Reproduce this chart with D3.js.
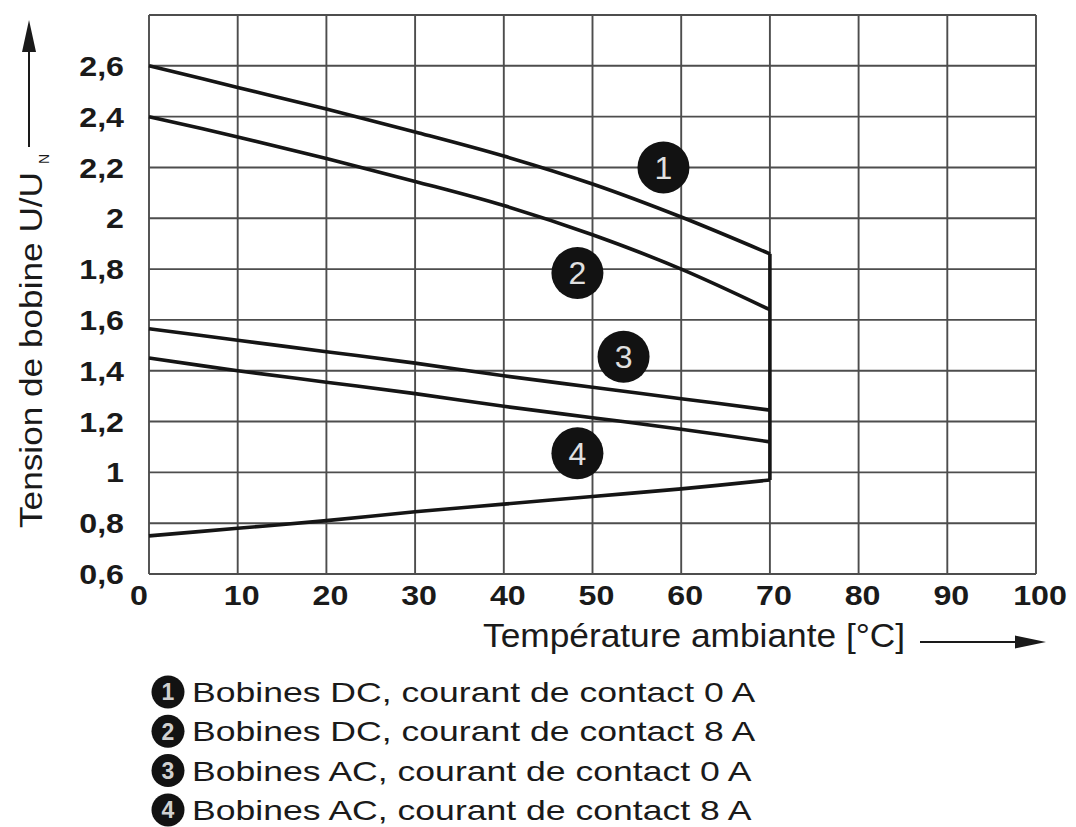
<!DOCTYPE html>
<html>
<head>
<meta charset="utf-8">
<script src="https://cdn.jsdelivr.net/npm/d3@7"></script>
<style>
  html, body { margin: 0; padding: 0; background: #fff; }
  svg { display: block; }
  text { font-family: "Liberation Sans", Arial, Helvetica, sans-serif; fill: #1a1a1a; }
</style>
</head>
<body>
<svg id="chart" width="1076" height="827"></svg>
<script>
// data
const temps = [0, 10, 20, 30, 40, 50, 60, 70];
const dc0 = [2.60, 2.515, 2.43, 2.34, 2.245, 2.135, 2.005, 1.86];
const dc8 = [2.40, 2.32, 2.235, 2.145, 2.05, 1.935, 1.80, 1.64];
const ac0 = [1.565, 1.52, 1.475, 1.43, 1.38, 1.335, 1.29, 1.245];
const ac8 = [1.45, 1.40, 1.355, 1.31, 1.26, 1.215, 1.17, 1.12];
const minV = [0.75, 0.78, 0.81, 0.845, 0.875, 0.905, 0.935, 0.97];
const edgeX = [70, 70];
const edgeY = [1.86, 0.97];

const xTicks = [0, 10, 20, 30, 40, 50, 60, 70, 80, 90, 100];
const yTicks = [0.6, 0.8, 1, 1.2, 1.4, 1.6, 1.8, 2, 2.2, 2.4, 2.6];
const yGrid = [0.6, 0.8, 1, 1.2, 1.4, 1.6, 1.8, 2, 2.2, 2.4, 2.6, 2.8];

const markNums = ["1", "2", "3", "4"];
const markX = [58, 48.3, 53.5, 48.3];
const markY = [2.2, 1.785, 1.455, 1.075];

const legendLabels = [
  "Bobines DC, courant de contact 0 A",
  "Bobines DC, courant de contact 8 A",
  "Bobines AC, courant de contact 0 A",
  "Bobines AC, courant de contact 8 A"
];

const svg = d3.select("#chart");
const x = d3.scaleLinear().domain([0, 100]).range([149, 1036]);
const y = d3.scaleLinear().domain([0.6, 2.8]).range([574, 15]);

// stretched text helper (the source lettering is wide)
function wideText(parent, px, py, str, opts) {
  const g = parent.append("g").attr("transform", "translate(" + px + "," + py + ")" + (opts.rotate ? " rotate(" + opts.rotate + ")" : ""));
  return g.append("text")
    .attr("transform", "scale(" + (opts.k || 1) + ",1)")
    .attr("text-anchor", opts.anchor || "start")
    .attr("dy", opts.dy || 0)
    .style("font-size", opts.size + "px")
    .style("font-weight", opts.bold ? "bold" : "normal")
    .text(str);
}

// grid
const grid = svg.append("g").attr("stroke", "#4d4d4d").attr("stroke-width", 1.9);
grid.selectAll(".vx").data(xTicks).enter().append("line")
  .attr("x1", d => x(d)).attr("x2", d => x(d))
  .attr("y1", y(2.8)).attr("y2", y(0.6));
grid.selectAll(".hy").data(yGrid).enter().append("line")
  .attr("x1", x(0)).attr("x2", x(100))
  .attr("y1", d => y(d)).attr("y2", d => y(d));

// tick labels
yTicks.forEach(v => {
  wideText(svg, 124, y(v), String(v).replace(".", ","), { size: 28, bold: true, k: 1.15, anchor: "end", dy: "0.36em" });
});
xTicks.forEach(v => {
  const px = v === 0 ? 139 : x(v) + 4;
  wideText(svg, px, 605, String(v), { size: 28, bold: true, k: 1.15, anchor: "middle" });
});

// curves
const line = d3.line()
  .x(d => x(d[0]))
  .y(d => y(d[1]))
  .curve(d3.curveCatmullRom);
const series = [dc0, dc8, ac0, ac8, minV];
svg.append("g").selectAll("path").data(series).enter().append("path")
  .attr("d", s => line(temps.map((t, i) => [t, s[i]])))
  .attr("fill", "none")
  .attr("stroke", "#151515")
  .attr("stroke-width", 3.6);
svg.append("path")
  .attr("d", d3.line().x(d => x(d[0])).y(d => y(d[1]))(edgeX.map((t, i) => [t, edgeY[i]])))
  .attr("fill", "none")
  .attr("stroke", "#151515")
  .attr("stroke-width", 3.6);

// numbered markers
const marks = svg.append("g").selectAll("g").data(markNums).enter().append("g")
  .attr("transform", (d, i) => "translate(" + x(markX[i]) + "," + y(markY[i]) + ")");
marks.append("circle").attr("r", 26).attr("fill", "#121212");
marks.append("text")
  .attr("text-anchor", "middle")
  .attr("dy", "0.36em")
  .style("font-size", "32px")
  .style("fill", "#e0e0e0")
  .text(d => d);

// x axis title + arrow
wideText(svg, 483, 647, "Température ambiante [°C]", { size: 33, k: 1.07 });
svg.append("line").attr("x1", 920).attr("x2", 1018).attr("y1", 642).attr("y2", 642)
  .attr("stroke", "#1a1a1a").attr("stroke-width", 2);
svg.append("path").attr("d", "M1015,635.5 L1046,642 L1015,648.5 Z").attr("fill", "#1a1a1a");

// y axis title + arrow
wideText(svg, 42, 528, "Tension de bobine U/U", { size: 32, k: 1.1, rotate: -90 });
wideText(svg, 49, 164, "N", { size: 14, k: 1, rotate: -90 });
svg.append("line").attr("x1", 29).attr("x2", 29).attr("y1", 147).attr("y2", 48)
  .attr("stroke", "#1a1a1a").attr("stroke-width", 2);
svg.append("path").attr("d", "M22,52 L29,20 L36,52 Z").attr("fill", "#1a1a1a");

// legend
const leg = svg.append("g");
legendLabels.forEach((lbl, i) => {
  const by = 702 + i * 39.3;
  leg.append("circle").attr("cx", 168).attr("cy", by - 10).attr("r", 16.5).attr("fill", "#121212");
  leg.append("text").attr("x", 168).attr("y", by - 10).attr("dy", "0.36em")
    .attr("text-anchor", "middle").style("font-size", "23px").style("font-weight", "bold")
    .style("fill", "#d0d0d0").text(markNums[i]);
  wideText(leg, 192, by, lbl, { size: 28, k: 1.27 });
});
</script>
</body>
</html>
